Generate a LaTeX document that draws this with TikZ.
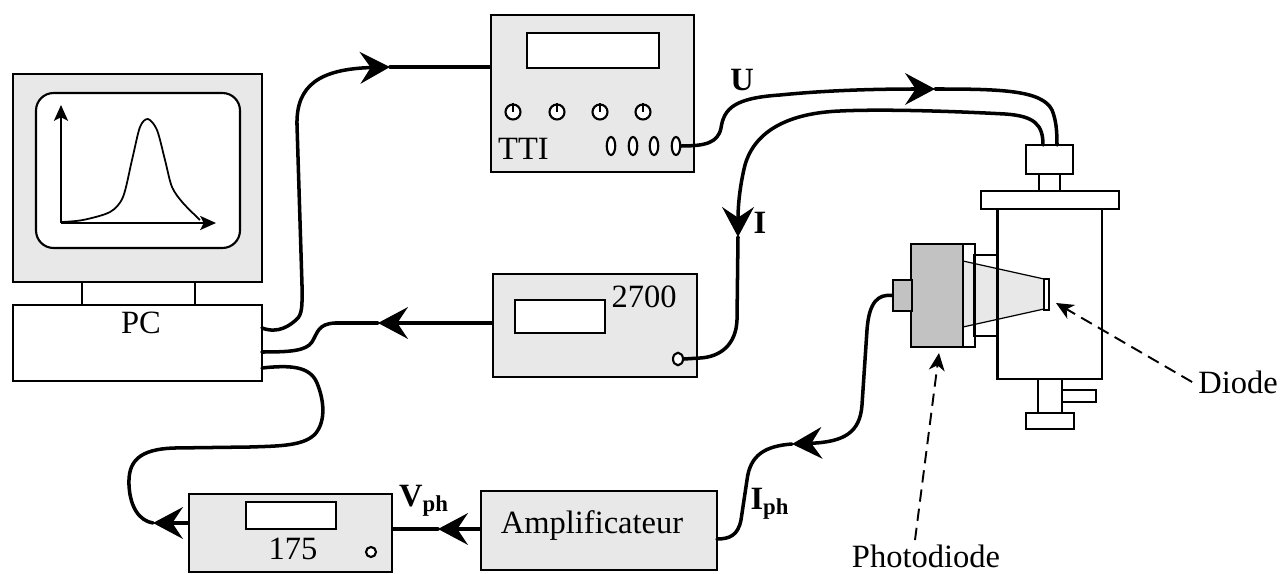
\documentclass[tikz,border=0pt]{standalone}
\usepackage{fontspec}
\setmainfont{Liberation Serif}
\usetikzlibrary{arrows.meta,shapes.geometric}
\definecolor{panel}{gray}{0.91}
\definecolor{housing}{gray}{0.76}

\begin{document}
\begin{tikzpicture}[
  x = 0.02cm, y = -0.02cm,
  every node/.style = {
    font = \fontsize{18.5}{21}\selectfont
  },
  box/.style = {
    shape = rectangle,
    draw = black,
    line width = 1.2pt,
    fill = panel,
    inner sep = 0pt,
  },
  part/.style = {box, fill = white},
  outline/.style = {box, fill = none},
  knob/.style = {
    shape = circle,
    draw = black,
    line width = 1.2pt,
    fill = white,
    minimum size = 0.3cm,
    inner sep = 0pt,
  },
  socket/.style = {
    shape = ellipse,
    draw = black,
    line width = 1.2pt,
    fill = white,
    minimum width = 0.17cm,
    minimum height = 0.36cm,
    inner sep = 0pt,
  },
  cable/.style = {line width = 2pt, line cap = round},
  midtip/.style = {-{Stealth[length = 17pt, width = 18pt, inset = 6pt]}},
  axis/.style = {line width = 1.1pt, -{Stealth[length = 9pt, width = 8pt, inset = 2pt]}},
  pointer/.style = {
    line width = 1.1pt,
    dash pattern = on 7pt off 4pt,
    -{Stealth[length = 10pt, width = 9pt, inset = 3pt]}
  },
  sig/.style = {font = \fontsize{18.5}{21}\selectfont\bfseries}
]
  \useasboundingbox (0, 0) rectangle (1282, 574);

  \draw node[box, minimum width = 4.98cm, minimum height = 4.16cm] (monitor) at (137.5, 178) {};
  \draw node[part, rounded corners = 0.35cm, minimum width = 4.08cm, minimum height = 3.1cm] (screen) at (138, 170.5) {};
  \coordinate (origin) at (61, 223);
  \draw[axis] (origin) -- (61, 105);
  \draw[axis] (origin) -- (216, 223);
  \draw[line width = 1pt] plot[smooth] coordinates {(62, 222) (83, 220) (110, 212) (123, 197) (132, 160) (140, 127) (148, 119) (157, 130) (165, 160) (172, 187) (183, 203) (200, 220)};
  \draw node[part, minimum width = 2.26cm, minimum height = 0.46cm] (stand) at (138.5, 293.5) {};
  \draw node[part, minimum width = 4.98cm, minimum height = 1.52cm] (pc) at (137.5, 343) {};
  \node (pctext) at (141, 323) {PC};

  \draw node[box, minimum width = 4.06cm, minimum height = 3.14cm] (tti) at (592.5, 93.5) {};
  \draw node[part, minimum width = 2.64cm, minimum height = 0.7cm] (ttiscreen) at (593, 50.5) {};
  \foreach \x [count = \i] in {513, 557, 600, 643} {
    \draw node[knob] (knob\i) at (\x, 112) {};
    \draw[line width = 1.2pt] (knob\i.center) -- (knob\i.north);
  }
  \foreach \x [count = \i] in {611, 633, 654, 676}
    \draw node[socket] (out\i) at (\x, 146) {};
  \node[anchor = west] (ttitext) at (492, 149) {TTI};

  \draw node[box, minimum width = 4.08cm, minimum height = 2.06cm] (mm) at (595, 325.5) {};
  \draw node[part, minimum width = 1.8cm, minimum height = 0.66cm] (mmscreen) at (560, 316.5) {};
  \node (mmtext) at (644, 297) {2700};
  \draw node[socket, minimum width = 0.2cm, minimum height = 0.25cm] (mmin) at (678, 359) {};

  \draw node[box, minimum width = 4.06cm, minimum height = 1.56cm] (lockin) at (290.5, 533) {};
  \draw node[part, minimum width = 1.8cm, minimum height = 0.54cm] (lockscreen) at (291, 515.5) {};
  \node (locktext) at (293, 549) {175};
  \draw node[knob, minimum size = 0.2cm] (lockknob) at (371, 552) {};

  \draw node[box, minimum width = 4.72cm, minimum height = 1.58cm] (amp) at (599, 530.5) {};
  \node (amptext) at (592, 526) {Amplificateur};

  \draw node[part, minimum width = 0.94cm, minimum height = 0.58cm] (cap) at (1049.5, 159.5) {};
  \draw node[part, minimum width = 0.42cm, minimum height = 0.34cm] (neck) at (1049.5, 182.5) {};
  \draw node[part, minimum width = 2.76cm, minimum height = 0.36cm] (flange) at (1050, 200) {};
  \draw node[part, minimum width = 2.08cm, minimum height = 3.4cm] (body) at (1050, 294) {};
  \draw node[part, minimum width = 0.68cm, minimum height = 0.24cm] (tab) at (1079, 396) {};
  \draw node[part, minimum width = 0.48cm, minimum height = 0.68cm] (stem) at (1050, 396) {};
  \draw node[part, minimum width = 0.96cm, minimum height = 0.32cm] (foot) at (1050, 421) {};
  \draw node[box, fill = housing, minimum width = 1.04cm, minimum height = 2.06cm] (housing) at (937, 295.5) {};
  \draw node[box, fill = housing, minimum width = 0.38cm, minimum height = 0.62cm] (pdplug) at (902.5, 295.5) {};
  \draw[line width = 0.7pt, fill = panel] (963, 261) -- (1044, 279) -- (1044, 309) -- (963, 327) -- cycle;
  \draw node[outline, minimum width = 0.24cm, minimum height = 2.06cm] (strip) at (969, 295.5) {};
  \draw node[outline, minimum width = 0.48cm, minimum height = 1.62cm] (window) at (986, 295.5) {};
  \draw[line width = 1.2pt] (body.north west) -- (body.south west);
  \draw node[part, minimum width = 0.1cm, minimum height = 0.62cm] (diode) at (1046.5, 294.5) {};

  \node (diodetext) at (1238, 382) {Diode};
  \node (pdtext) at (926, 556) {Photodiode};
  \coordinate (diodept) at (1056, 303);
  \coordinate (pdpt) at (939, 353);
  \coordinate (pdtail) at (915, 540);
  \draw[pointer] (diodetext.west) -- (diodept);
  \draw[pointer] (pdtail) -- (pdpt);

  \coordinate (pcA) at (262, 328);
  \coordinate (pcB) at (262, 352);
  \coordinate (pcC) at (262, 368);
  \coordinate (arr1) at (390, 67);
  \coordinate (arr2) at (378, 323);
  \coordinate (arr3) at (153, 523);
  \coordinate (arr4) at (438, 529);
  \coordinate (arr5) at (792, 444);
  \coordinate (arr6) at (935, 89);
  \coordinate (arr7) at (738, 237);
  \coordinate (capU) at (1057, 145);
  \coordinate (capI) at (1043, 145);
  \coordinate (ampin) at (717, 539);

  \draw[cable, midtip] (pcA) .. controls (278, 334) and (290, 326) .. (298, 318) .. controls (303, 312) and (302, 300) .. (302, 285) -- (297, 125) .. controls (296, 85) and (320, 69) .. (arr1);
  \draw[cable] (arr1) -- (arr1 -| tti.west);

  \draw[cable, midtip] (arr2 -| mm.west) -- (arr2);
  \draw[cable] (arr2) -- (335, 323) .. controls (318, 324) and (318, 332) .. (312, 342) .. controls (306, 351) and (290, 352) .. (pcB);

  \draw[cable] (pcC) .. controls (290, 365) and (310, 366) .. (317, 383) .. controls (324, 400) and (326, 420) .. (316, 433) .. controls (305, 446) and (280, 446) .. (250, 447) -- (175, 448) .. controls (138, 449) and (128, 462) .. (129, 485) .. controls (130, 508) and (140, 521) .. (arr3);
  \draw[cable, midtip] (arr3 -| lockin.west) -- (arr3);

  \draw[cable, midtip] (arr4 -| amp.west) -- (arr4);
  \draw[cable] (arr4) -- (arr4 -| lockin.east);

  \draw[cable, midtip] (pdplug.west) .. controls (878, 294) and (869, 302) .. (867, 330) -- (862, 405) .. controls (860, 432) and (845, 442) .. (arr5);
  \draw[cable] (arr5) .. controls (765, 446) and (750, 455) .. (747, 480) -- (741, 520) .. controls (738, 535) and (730, 539) .. (ampin);

  \draw[cable, midtip] (out4.east) .. controls (705, 146) and (718, 143) .. (721, 128) .. controls (724, 108) and (735, 98) .. (780, 95) .. controls (830, 90) and (880, 89) .. (arr6);
  \draw[cable] (arr6) .. controls (1000, 89) and (1042, 90) .. (1052, 110) .. controls (1056, 120) and (1057, 130) .. (capU);

  \draw[cable, midtip] (capI) .. controls (1043, 125) and (1035, 116) .. (1005, 114) .. controls (950, 111) and (880, 109) .. (840, 111) .. controls (790, 113) and (755, 130) .. (745, 165) .. controls (740, 185) and (738, 205) .. (arr7);
  \draw[cable] (arr7) -- (737, 320) .. controls (736, 345) and (720, 357) .. (700, 358) -- (mmin.east);

  \node[sig] (ulabel) at (742, 80) {U};
  \node[sig] (ilabel) at (760, 223) {I};
  \node[sig] (vphlabel) at (424, 501) {V\textsubscript{ph}};
  \node[sig] (iphlabel) at (770, 504) {I\textsubscript{ph}};
\end{tikzpicture}
\end{document}
